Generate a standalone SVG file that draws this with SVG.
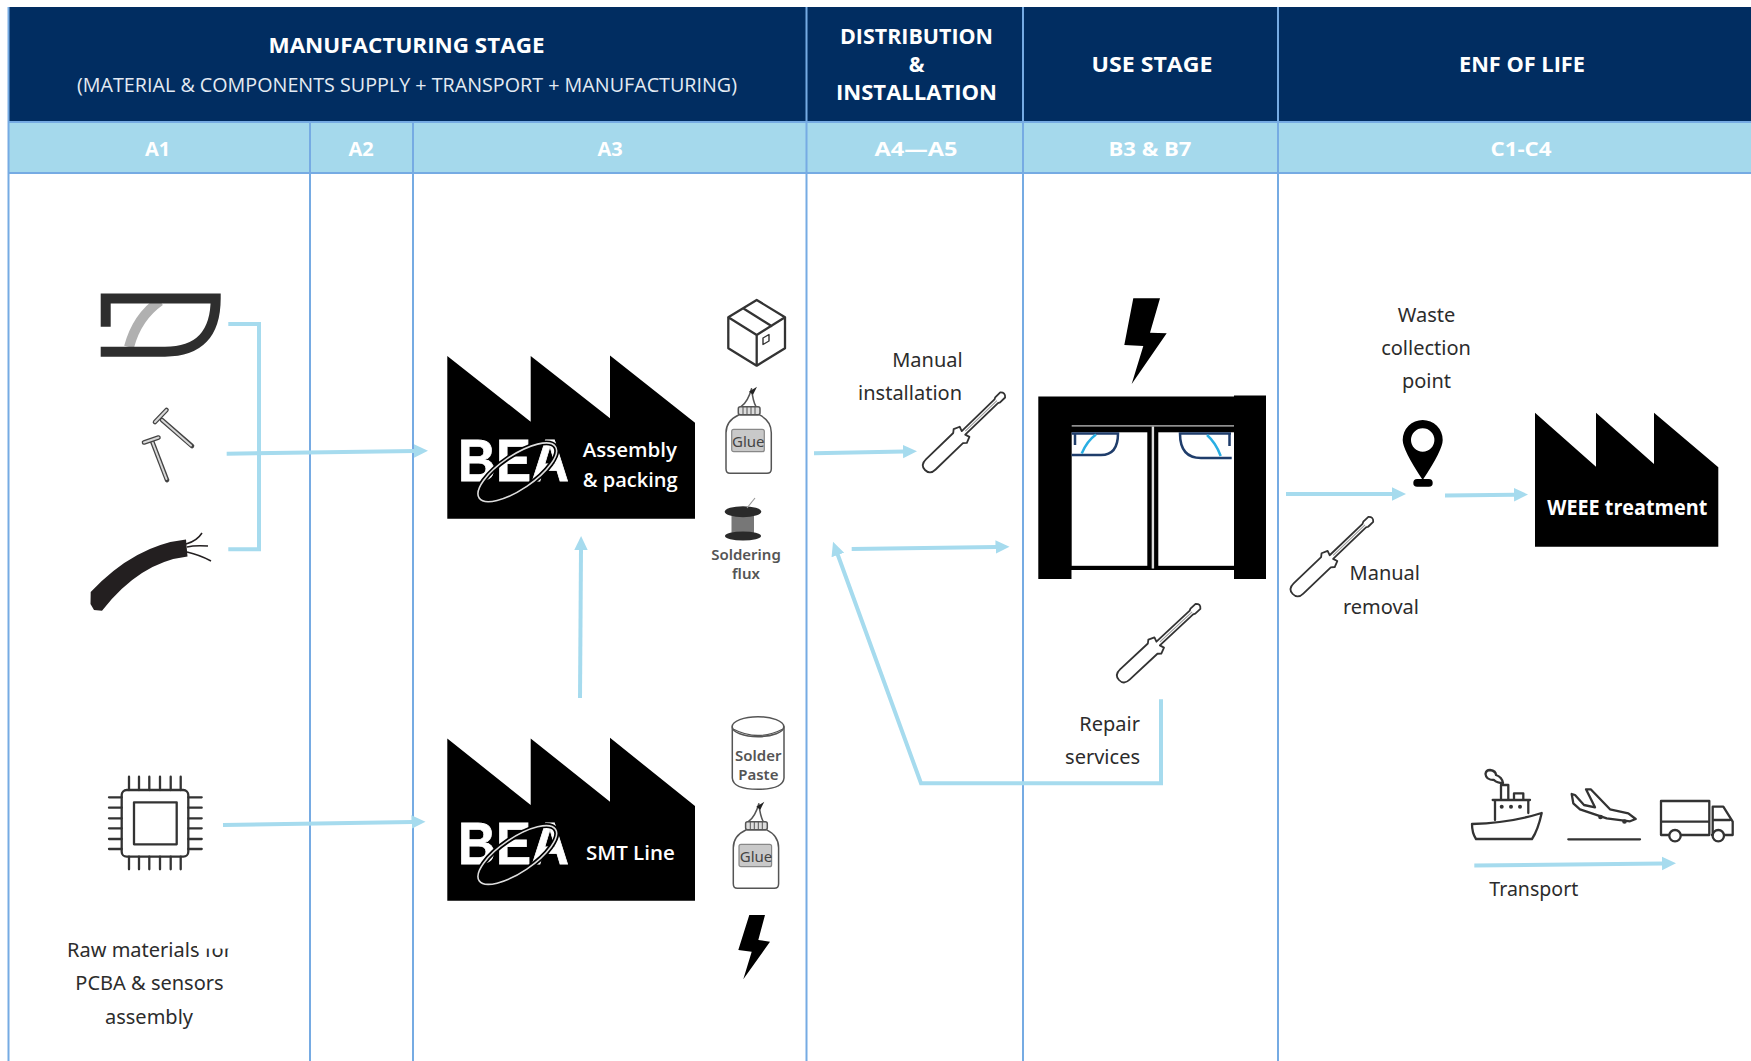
<svg xmlns="http://www.w3.org/2000/svg" width="1751" height="1061" viewBox="0 0 1751 1061">
<style>
text{font-family:"Noto Sans","Open Sans","Liberation Sans",sans-serif}
.hb{font-family:"Open Sans","Noto Sans",sans-serif;font-weight:700;font-size:21px;fill:#fff;text-anchor:middle}
.hr{font-family:"Open Sans","Noto Sans",sans-serif;font-size:20px;fill:#e4ebf3;text-anchor:middle}
.sub{font-family:"Open Sans","Noto Sans",sans-serif;font-weight:700;font-size:20px;fill:#fff;text-anchor:middle}
.lb{font-size:20px;fill:#2c2c2c}
.mid{text-anchor:middle}
.end{text-anchor:end}
.ft{font-family:"Open Sans","Noto Sans",sans-serif;font-weight:600;font-size:20.5px;fill:#fff}
.logo{font-family:"Liberation Sans",sans-serif;font-weight:700;font-size:59px;fill:#fff;stroke:#fff;stroke-width:.8}
.grid{stroke:#76abe3;stroke-width:2;fill:none}
.cn{stroke:#a6dbee;stroke-width:4;fill:none}
.ar{marker-end:url(#ah)}
.ico{fill:none;stroke:#333;stroke-width:2.3;stroke-linejoin:round;stroke-linecap:round}
.ico2{fill:#fff;stroke:#555;stroke-width:1.5;stroke-linejoin:round}
.gl{font-size:15px;fill:#444;text-anchor:middle}
.sm{font-size:15px;font-weight:600;fill:#555;text-anchor:middle}
</style>
<defs>
<marker id="ah" markerUnits="userSpaceOnUse" markerWidth="15" markerHeight="15" viewBox="0 0 15 15" refX="1" refY="7.5" orient="auto"><path d="M0,0.8 L14,7.5 L0,14.2 Z" fill="#a6dbee"/></marker>
<g id="sd"><path d="M46,-7 L8,-7 Q0,-7 0,0 Q0,7 8,7 L46,7 L49,9.5 L55,7 L53.5,2.5 L99,2.5 L101,3.5 L108,3.5 Q112,0 108,-3.5 L101,-3.5 L99,-2.5 L53.5,-2.5 L55,-7 L49,-9.5 Z" fill="#fff" stroke="#333" stroke-width="1.8" stroke-linejoin="round"/><path d="M56,0 H100" stroke="#999" stroke-width="1"/></g>
<g id="bottle"><path d="M15,0 Q22,-5 25.5,-18 Q27,-5 30,0" class="ico2"/><path d="M23,-15 L31,-20 L27,-12 Z" fill="#222"/><path d="M13,8 Q0,14 0,26 V62 Q0,66.6 4,66.6 H41 Q45.3,66.6 45.3,62 V26 Q45.3,14 33,8 Z" class="ico2"/><rect x="12.3" y="0" width="21.7" height="8" rx="2" fill="#ddd" stroke="#555" stroke-width="1.5"/><path d="M17,0 V8 M21,0 V8 M25,0 V8 M29,0 V8" stroke="#555" stroke-width="1"/><rect x="5.7" y="22.6" width="32.6" height="22.4" rx="2" fill="#c9c9c9" stroke="#888" stroke-width="1.2"/></g>
</defs>
<rect width="1751" height="1061" fill="#fff"/>
<g id="table">
<rect x="8" y="7" width="1743" height="115" fill="#012d61"/>
<rect x="8" y="122" width="1743" height="51" fill="#a5d9ec"/>
<path class="grid" d="M8.5,7 V1061 M310,122 V1061 M413,122 V1061 M806.5,7 V1061 M1023,7 V1061 M1278,7 V1061 M8,122 H1751 M8,173 H1751"/>
<text class="hb" x="406.5" y="53" textLength="276" lengthAdjust="spacingAndGlyphs">MANUFACTURING STAGE</text>
<text class="hr" x="407" y="91.8" textLength="660" lengthAdjust="spacingAndGlyphs">(MATERIAL &amp; COMPONENTS SUPPLY + TRANSPORT + MANUFACTURING)</text>
<text class="hb" x="916.5" y="44" textLength="153" lengthAdjust="spacingAndGlyphs">DISTRIBUTION</text>
<text class="hb" x="916.5" y="72">&amp;</text>
<text class="hb" x="916.5" y="100" textLength="161" lengthAdjust="spacingAndGlyphs">INSTALLATION</text>
<text class="hb" x="1152" y="72" textLength="121" lengthAdjust="spacingAndGlyphs">USE STAGE</text>
<text class="hb" x="1522" y="72" textLength="126" lengthAdjust="spacingAndGlyphs">ENF OF LIFE</text>
<text class="sub" x="157.5" y="155.5">A1</text>
<text class="sub" x="361" y="155.5">A2</text>
<text class="sub" x="610" y="155.5">A3</text>
<text class="sub" x="916" y="155.5" textLength="83" lengthAdjust="spacingAndGlyphs">A4—A5</text>
<text class="sub" x="1150" y="155.5" textLength="83" lengthAdjust="spacingAndGlyphs">B3 &amp; B7</text>
<text class="sub" x="1521" y="155.5" textLength="61" lengthAdjust="spacingAndGlyphs">C1-C4</text>
</g>
<g id="connectors">
<path class="cn" d="M228.3,324 H259 V549.3 H228.3"/>
<path class="cn ar" d="M226.7,453.7 L415,451"/>
<path class="cn ar" d="M223,825 L412.5,822"/>
<path class="cn ar" d="M580,698 L581,549"/>
<path class="cn ar" d="M814,453.3 L904,451.5"/>
<path class="cn ar" d="M851.7,549 L996.5,547"/>
<path class="cn ar" d="M1161,699.3 V783.3 H921 L837.5,554"/>
<path class="cn ar" d="M1286,494 L1393,494"/>
<path class="cn ar" d="M1445,495.5 L1515,494.7"/>
<path class="cn ar" d="M1474.3,865.5 L1663,863.5"/>
</g>
<g id="door-handle-icon">
<path d="M129,347 Q137,317 160,301" fill="none" stroke="#b0b0b0" stroke-width="10"/>
<path d="M105.7,326.7 V298.5 H215.7 Q215.7,351.7 165,351.7 H100.7" fill="none" stroke="#2e2e2e" stroke-width="10"/>
</g>
<g id="nails-icon" fill="none" stroke-linecap="round">
<path d="M162,420 L192,446" stroke="#444" stroke-width="4.6"/><path d="M162,420 L191,445.5" stroke="#d8d8d8" stroke-width="2"/>
<path d="M155,422 L166.5,410" stroke="#444" stroke-width="4.6"/><path d="M155,422 L166.5,410" stroke="#d8d8d8" stroke-width="2"/>
<path d="M152,441 L167,480" stroke="#444" stroke-width="4.6"/><path d="M152,441 L166.5,479" stroke="#d8d8d8" stroke-width="2"/>
<path d="M144,442.5 L158.5,437.5" stroke="#444" stroke-width="4.6"/><path d="M144,442.5 L158.5,437.5" stroke="#d8d8d8" stroke-width="2"/>
</g>
<g id="cable-icon">
<path d="M90.7,592 Q135,545 186,539.5 L187.5,556.5 Q140,562 102,610.7 L94,610 L90.5,604 Z" fill="#231f20"/>
<path d="M186,544 Q197,541 202,533 M187,547 Q195,545 208,546 M187,552 Q200,555 211,561" fill="none" stroke="#231f20" stroke-width="1.5"/>
</g>
<g id="chip-icon" class="ico">
<rect x="121.7" y="790" width="66.6" height="66.7" rx="5"/>
<rect x="134" y="802.3" width="42.7" height="42"/>
<path d="M129,776.7 V790 M139,776.7 V790 M149.3,776.7 V790 M160,776.7 V790 M170.7,776.7 V790 M180.7,776.7 V790 M129,856.7 V869.3 M139,856.7 V869.3 M149.3,856.7 V869.3 M160,856.7 V869.3 M170.7,856.7 V869.3 M180.7,856.7 V869.3 M109,797.3 H121.7 M109,807.7 H121.7 M109,818.3 H121.7 M109,828.3 H121.7 M109,839 H121.7 M109,849 H121.7 M188.3,797.3 H201.7 M188.3,807.7 H201.7 M188.3,818.3 H201.7 M188.3,828.3 H201.7 M188.3,839 H201.7 M188.3,849 H201.7"/>
</g>
<g id="raw-materials-label">
<text class="lb mid" x="149.5" y="957.3">Raw materials for</text>
<rect x="197" y="936" width="38" height="12.6" fill="#fff"/>
<text class="lb mid" x="149.5" y="989.7">PCBA &amp; sensors</text>
<text class="lb mid" x="149" y="1024">assembly</text>
</g>
<g id="assembly-factory">
<path d="M447.3,356 L530.7,421.7 V356 L610,418.3 V355.5 L695,422.7 V518.7 H447.3 Z" fill="#000"/>
<text class="logo" x="458" y="481" textLength="111" lengthAdjust="spacingAndGlyphs">BEA</text>
<ellipse cx="517.3" cy="472.3" rx="46" ry="17" transform="rotate(-34 517.3 472.3)" fill="none" stroke="#000" stroke-width="5"/>
<ellipse cx="517.3" cy="472.3" rx="46" ry="17" transform="rotate(-34 517.3 472.3)" fill="none" stroke="#ddd" stroke-width="1.6"/>
<text class="ft" x="582.7" y="457.3">Assembly</text>
<text class="ft" x="582.7" y="487.3" textLength="95" lengthAdjust="spacingAndGlyphs">&amp; packing</text>
</g>
<g id="smt-factory">
<path d="M447.3,738.5 L530.7,805 V738.5 L610,801.7 V737.8 L695,806 V900.7 H447.3 Z" fill="#000"/>
<text class="logo" x="458" y="864.3" textLength="111" lengthAdjust="spacingAndGlyphs">BEA</text>
<ellipse cx="517.3" cy="855" rx="46" ry="17" transform="rotate(-34 517.3 855)" fill="none" stroke="#000" stroke-width="5"/>
<ellipse cx="517.3" cy="855" rx="46" ry="17" transform="rotate(-34 517.3 855)" fill="none" stroke="#ddd" stroke-width="1.6"/>
<text class="ft" x="586" y="860">SMT Line</text>
</g>
<g id="box-icon" class="ico">
<path d="M756.7,300 L785,317.3 V348.3 L756.7,365.7 L728.3,348.3 V317.3 Z M728.3,317.3 L756.7,335 L785,317.3 M756.7,335 V365.7 M743.5,308.5 L771.5,326"/>
<path d="M763,338 L769,334.5 V341 L763,344.5 Z" stroke-width="1.4"/>
</g>
<g id="glue-a3">
<use href="#bottle" transform="translate(726,406.7)"/>
<text class="gl" x="748.3" y="447">Glue</text>
</g>
<g id="soldering-flux">
<path d="M731.5,512 V536 H754 V512 Z" fill="#777"/>
<ellipse cx="743" cy="511.7" rx="18.3" ry="5.5" fill="#2a2a2a"/>
<ellipse cx="743" cy="536" rx="18" ry="4.5" fill="#2a2a2a"/>
<path d="M747,508 L755,498" stroke="#999" stroke-width="1.2" fill="none"/>
<text class="sm" x="746" y="560">Soldering</text>
<text class="sm" x="746" y="579">flux</text>
</g>
<g id="solder-paste">
<path d="M732.3,726.7 V778 Q733,789.3 758,789.3 Q783,789.3 784,778 V726.7 Z" class="ico2"/>
<ellipse cx="758" cy="726.7" rx="25.8" ry="10" class="ico2"/>
<path d="M733,729 Q758,742 783,729" fill="none" stroke="#555" stroke-width="1.3"/>
<text class="sm" x="758.3" y="761">Solder</text>
<text class="sm" x="758.3" y="780">Paste</text>
</g>
<g id="glue-smt">
<use href="#bottle" transform="translate(733.3,821.7)"/>
<text class="gl" x="756" y="862">Glue</text>
</g>
<path id="power-a3" d="M749.3,915 H765 L758.3,940 L770,941.7 L743.3,979.3 L751.7,951.7 L738.3,950 Z" fill="#000"/>
<g id="manual-installation">
<text class="lb end" x="962.7" y="366.8">Manual</text>
<text class="lb end" x="962" y="399.5">installation</text>
<use href="#sd" transform="translate(925,470) rotate(-44)"/>
</g>
<path id="power-use" d="M1133.3,298.3 H1160 L1150,332.7 L1166.7,333.3 L1131.7,384 L1143.3,346 L1124.3,345 Z" fill="#000"/>
<g id="door">
<path d="M1038.3,396.5 H1234 V395.5 H1266 V579 H1234 V570 H1071.7 V579 H1038.3 Z" fill="#000"/>
<rect x="1071.7" y="570" width="162.3" height="9.5" fill="#fff"/>
<rect x="1071.7" y="425.3" width="162.3" height="1.2" fill="#ccc"/>
<rect x="1071.7" y="432.3" width="75.6" height="133.5" fill="#fff"/>
<rect x="1158.3" y="432.3" width="75.7" height="133.5" fill="#fff"/>
<rect x="1151.7" y="426.5" width="2.4" height="142" fill="#ddd"/>
<path d="M1071.7,433.5 H1118 Q1118,455 1101,455 H1071.7 M1075,433.5 V445" fill="none" stroke="#1f3d6b" stroke-width="2.5"/>
<path d="M1081.7,453.5 Q1087,441 1096,434.5" fill="none" stroke="#29aee3" stroke-width="2.5"/>
<path d="M1231.7,458 H1201 Q1180,458 1180,433.5 H1231 M1229.5,433.5 V446" fill="none" stroke="#1f3d6b" stroke-width="2.5"/>
<path d="M1207,435 Q1216,443 1220.7,456" fill="none" stroke="#29aee3" stroke-width="2.5"/>
</g>
<g id="repair-services">
<use href="#sd" transform="translate(1119,680) rotate(-43)"/>
<text class="lb end" x="1140" y="731.3">Repair</text>
<text class="lb end" x="1140" y="764">services</text>
</g>
<g id="waste-collection-point">
<text class="lb mid" x="1426.5" y="322">Waste</text>
<text class="lb mid" x="1426" y="355">collection</text>
<text class="lb mid" x="1426.5" y="388">point</text>
<path fill-rule="evenodd" d="M1422.7,420 A20,20 0 0 1 1442.7,440 Q1442.7,450 1422.7,480 Q1402.7,450 1402.7,440 A20,20 0 0 1 1422.7,420 Z M1422.7,428.3 A11.7,11.7 0 1 0 1422.7,451.7 A11.7,11.7 0 1 0 1422.7,428.3 Z" fill="#000"/>
<rect x="1413.3" y="479" width="19.4" height="7.7" rx="3.8" fill="#000"/>
</g>
<g id="manual-removal">
<use href="#sd" transform="translate(1292.7,594) rotate(-43.7)"/>
<text class="lb end" x="1420" y="580">Manual</text>
<text class="lb end" x="1419" y="613.5">removal</text>
</g>
<g id="weee-factory">
<path d="M1535,412.8 L1596,466.7 V412.8 L1654,464 V412.8 L1718.3,467.3 V546.7 H1535 Z" fill="#000"/>
<text class="ft" x="1547.3" y="515" textLength="160" lengthAdjust="spacingAndGlyphs" style="font-weight:700">WEEE treatment</text>
</g>
<g id="ship-icon" class="ico">
<path d="M1472,824 Q1510,823 1541.7,813 Q1538,830 1532,839 H1476 Q1472,833 1472,824 Z"/>
<path d="M1495,820 V800 M1528.3,813 V800 M1492.7,800 H1530 M1501,800 V785 H1508.3 V800 M1514,800 V793.3 H1523.3 V800"/>
<circle cx="1501.7" cy="806.7" r="2" fill="#333" stroke="none"/><circle cx="1511" cy="806.7" r="2" fill="#333" stroke="none"/><circle cx="1520" cy="806.7" r="2" fill="#333" stroke="none"/>
<path d="M1503,783 Q1497,783 1494,780 Q1486,780 1485.5,774 Q1486,770 1490,770 Q1496,771 1496,775 Q1502,777 1503,783 Z"/>
</g>
<g id="plane-icon" class="ico">
<path d="M1571.7,794 L1575,795 L1584,805 L1595,807.3 L1586,789.3 L1590.7,789.3 L1610,809.3 L1628.3,813.3 L1635.7,819 L1630,821.3 L1606.7,818.3 L1580,809.3 L1573.3,803.3 Z"/>
<path d="M1568.3,839.3 H1640"/>
<circle cx="1600.5" cy="817" r="1.2" fill="#333"/><circle cx="1624.5" cy="821.5" r="1.2" fill="#333"/>
</g>
<g id="truck-icon" class="ico">
<path d="M1669,835 H1661 V801 H1709.3 V835 H1681 M1661,821.7 H1709.3 M1712.7,835 V806.7 H1723.3 L1732.7,821.7 V835 H1724 M1712,835 H1712.7 M1712.7,820 H1730"/>
<circle cx="1675" cy="835.7" r="5.7"/><circle cx="1718.3" cy="835.7" r="5.7"/>
</g>
<text id="transport-label" class="lb" x="1489.3" y="896.2" textLength="89" lengthAdjust="spacingAndGlyphs">Transport</text>
</svg>
